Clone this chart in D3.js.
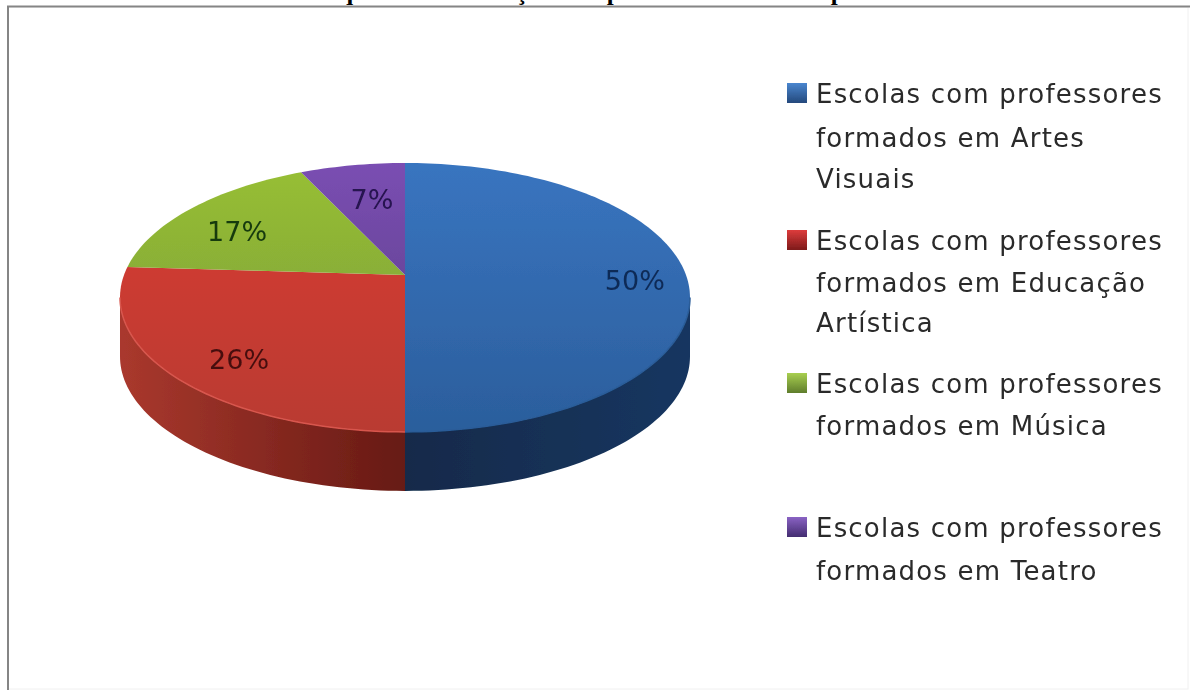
<!DOCTYPE html>
<html lang="pt">
  <head>
    <meta charset="utf-8">
    <title>Perfil das escolas</title>
    <script src="https://cdn.jsdelivr.net/npm/d3@7"></script>
    <style>
      html, body { margin: 0; padding: 0; background: #fff; overflow: hidden; }
      svg { display: block; }
    </style>
  </head>
  <body>
    <script>
    // chart data
    var titleText = "Gráfico 3 - Perfil das escolas quanto a formação dos professores da arte por áreas";
    var categories = [
      ["Escolas com professores", "formados em Artes", "Visuais"],
      ["Escolas com professores", "formados em Educação", "Artística"],
      ["Escolas com professores", "formados em Música"],
      ["Escolas com professores", "formados em Teatro"]
    ];
    var values = [50, 26, 17, 7];

    // colours, one per slice: top surface [top, bottom], wall [outer, centre], label, swatch
    var topColors = [["#3a76c2", "#2b5e9c"], ["#dc3a30", "#b93b33"], ["#9ac233", "#76983c"], ["#7d50b6", "#553a80"]];
    var wallColors = [["#173660", "#122a4a"], ["#a9382d", "#661a14"]];
    var rimColors = ["#2a5c98", "#d8574e", "none", "none"];
    var labelColors = ["#0d2a57", "#470f10", "#163a0e", "#25124f"];
    var swatchColors = [["#4a86cf", "#24497c"], ["#dd3c3c", "#7d1a1a"], ["#a8cf50", "#5f7d2c"], ["#8a63c4", "#432c70"]];

    // layout
    var w = 1190, h = 691;
    var cx = 405, cy = 275;       // where the slices meet
    var persp = -0.167;           // perspective of the tilted disc
    var radX = 281, radY = 130.7;
    var depth = 59;

    var labelNudge = [[5, 6], [-2, 13], [18, 16], [16, 27]];
    var legendX = 816, swatchX = 787, swatchSize = 20;
    var legendBaselines = [[103, 147, 188], [250, 292, 332], [393, 435], [537, 580]];

    var svg = d3.select("body").append("svg")
      .attr("width", w)
      .attr("height", h);

    var defs = svg.append("defs");

    defs.append("filter").attr("id", "soft")
      .attr("x", "-5%").attr("y", "-5%").attr("width", "110%").attr("height", "110%")
      .append("feGaussianBlur").attr("stdDeviation", 0.7);
    defs.append("filter").attr("id", "softText")
      .attr("x", "-5%").attr("y", "-20%").attr("width", "110%").attr("height", "140%")
      .append("feGaussianBlur").attr("stdDeviation", 0.45);

    var addGradient = function(id, stops, x1, y1, x2, y2, units) {
      var g = defs.append("linearGradient").attr("id", id)
        .attr("x1", x1).attr("y1", y1).attr("x2", x2).attr("y2", y2);
      if (units) g.attr("gradientUnits", units);
      stops.forEach(function(c, i) {
        g.append("stop").attr("offset", i / (stops.length - 1)).attr("stop-color", c);
      });
    };

    // tilted disc: pie angle (clockwise from 12 o'clock) to screen point
    var project = function(a) {
      var x = Math.sin(a), y = -Math.cos(a), k = 1 + persp * y;
      return [cx + radX * x / k, cy + radY * y / k];
    };

    var pie = d3.pie().sort(null).value(function(d) { return d; });
    var slices = pie(values);

    var samples = function(a0, a1) {
      var n = Math.max(2, Math.ceil((a1 - a0) * 40));
      return d3.range(n + 1).map(function(i) { return a0 + (a1 - a0) * i / n; });
    };

    var line = d3.line();
    var chart = svg.append("g").attr("filter", "url(#soft)");

    // frame
    svg.append("rect")
      .attr("x", 8).attr("y", 7)
      .attr("width", 1180).attr("height", 682)
      .attr("fill", "none").attr("stroke", "#f0f0f0").attr("stroke-width", 1);
    svg.append("path")
      .attr("d", "M8,690V6.5H1190")
      .attr("fill", "none").attr("stroke", "#858585").attr("stroke-width", 2);

    // side walls, between the two widest points of the disc
    var wall = d3.area()
      .x(function(a) { return project(a)[0]; })
      .y0(function(a) { return project(a)[1]; })
      .y1(function(a) { return project(a)[1] + depth; });

    var widest = Math.acos(persp);
    var halves = [[widest, Math.PI], [Math.PI, Math.PI * 2 - widest]];
    addGradient("wall0", [wallColors[0][1], wallColors[0][0]], cx, 0, cx + radX, 0, "userSpaceOnUse");
    addGradient("wall1", [wallColors[1][0], wallColors[1][1]], cx - radX, 0, cx, 0, "userSpaceOnUse");

    chart.selectAll(".wall")
      .data(halves)
      .enter()
      .append("path")
      .attr("class", "wall")
      .attr("d", function(d) { return wall(samples(d[0], d[1])); })
      .attr("fill", function(d, i) { return "url(#wall" + i + ")"; });

    // top surface
    chart.selectAll(".top")
      .data(slices)
      .enter()
      .append("path")
      .attr("class", "top")
      .attr("d", function(d, i) {
        addGradient("top" + i, topColors[i], 0, cy - radY, 0, cy + radY * 1.2, "userSpaceOnUse");
        return line([[cx, cy]].concat(samples(d.startAngle, d.endAngle).map(project))) + "Z";
      })
      .attr("fill", function(d, i) { return "url(#top" + i + ")"; });

    // light rim along the front edge
    chart.selectAll(".rim")
      .data(slices.slice(0, 2))
      .enter()
      .append("path")
      .attr("class", "rim")
      .attr("d", function(d, i) {
        return line(samples(Math.max(d.startAngle, widest), Math.min(d.endAngle, Math.PI * 2 - widest)).map(project));
      })
      .attr("fill", "none")
      .attr("stroke-width", 1.5)
      .attr("stroke", function(d, i) { return rimColors[i]; });

    // data labels
    svg.selectAll(".label")
      .data(slices)
      .enter()
      .append("text")
      .attr("class", "label")
      .attr("x", function(d, i) {
        return cx + radX * 0.8 * Math.sin((d.startAngle + d.endAngle) / 2) + labelNudge[i][0];
      })
      .attr("y", function(d, i) {
        return cy - radY * 0.8 * Math.cos((d.startAngle + d.endAngle) / 2) + labelNudge[i][1] + 9;
      })
      .attr("text-anchor", "middle")
      .attr("font-family", "DejaVu Sans")
      .attr("font-size", 27)
      .attr("filter", "url(#softText)")
      .attr("fill", function(d, i) { return labelColors[i]; })
      .text(function(d) { return d.value + "%"; });

    // legend
    var legend = svg.selectAll(".legend")
      .data(categories)
      .enter()
      .append("g")
      .attr("class", "legend");

    legend.append("rect")
      .attr("x", swatchX)
      .attr("y", function(d, i) { return legendBaselines[i][0] - swatchSize; })
      .attr("width", swatchSize)
      .attr("height", swatchSize)
      .attr("filter", "url(#softText)")
      .attr("fill", function(d, i) {
        addGradient("swatch" + i, swatchColors[i], 0, 0, 0, 1);
        return "url(#swatch" + i + ")";
      });

    legend.each(function(d, i) {
      d3.select(this).selectAll("text")
        .data(d)
        .enter()
        .append("text")
        .attr("x", legendX)
        .attr("y", function(t, j) { return legendBaselines[i][j]; })
        .attr("font-family", "DejaVu Sans")
        .attr("font-size", 26)
        .attr("letter-spacing", 1.2)
        .attr("fill", "#2a2a2a")
        .attr("filter", "url(#softText)")
        .text(function(t) { return t; });
    });

    // title, cut off by the top of the picture
    svg.append("text")
      .attr("x", 5)
      .attr("y", 0.3)
      .attr("textLength", 932)
      .attr("font-family", "Liberation Serif")
      .attr("font-weight", "bold")
      .attr("font-size", 25)
      .attr("fill", "#000")
      .text(titleText);
    </script>
  </body>
</html>
